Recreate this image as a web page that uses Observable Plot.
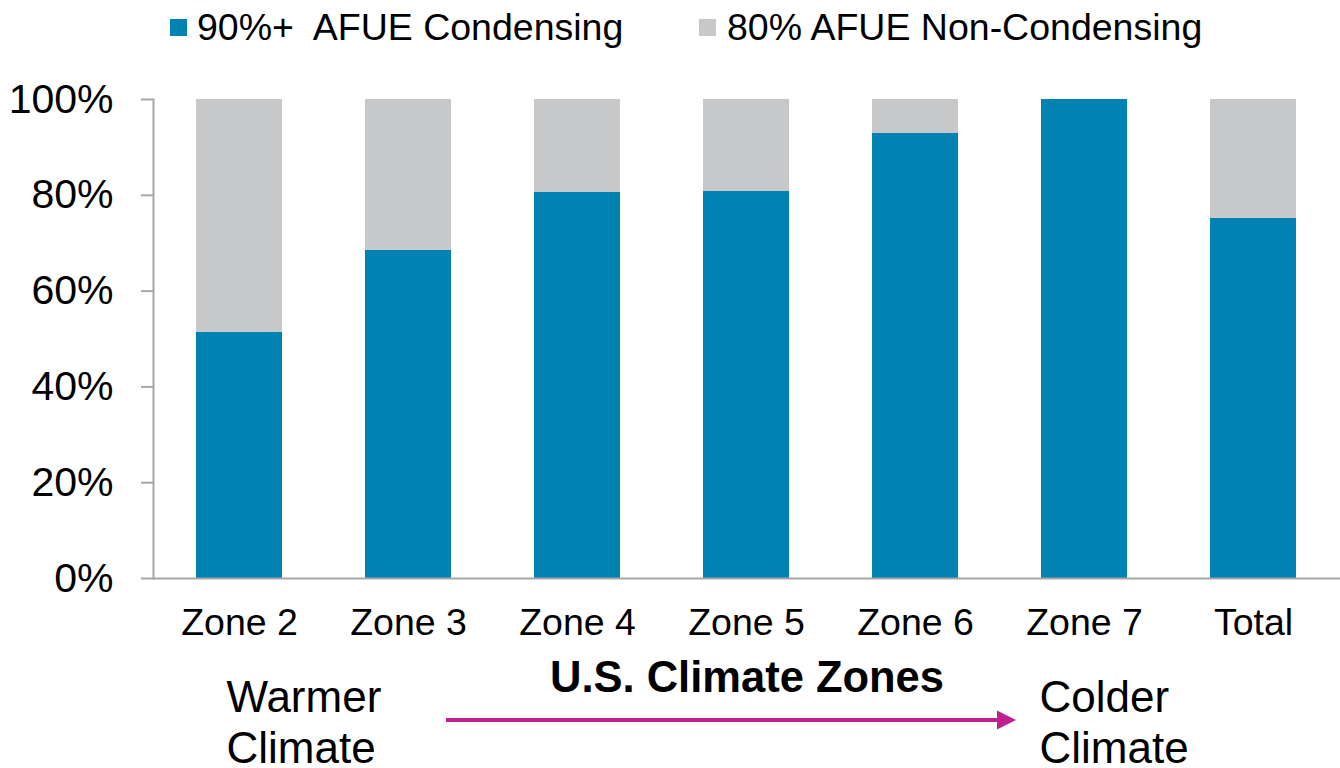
<!DOCTYPE html>
<html>
<head>
<meta charset="utf-8">
<script src="https://cdn.jsdelivr.net/npm/d3@7"></script>
<script src="https://cdn.jsdelivr.net/npm/@observablehq/plot@0.6"></script>
<style>
  html, body { margin: 0; padding: 0; background: #fff; }
  body { width: 1340px; height: 768px; overflow: hidden; font-family: "Liberation Sans", Arial, sans-serif; }
  #legend { position: relative; height: 60px; width: 1340px; }
  .item { position: absolute; top: 9px; font-size: 37.5px; line-height: 37px; white-space: pre; color: #000; }
  .sw { position: absolute; top: 19px; width: 17px; height: 17px; }
</style>
</head>
<body>
<div id="legend"></div>
<div id="chart"></div>
<script>
const categories = ["Zone 2", "Zone 3", "Zone 4", "Zone 5", "Zone 6", "Zone 7", "Total"];
const condensing = [51.4, 68.5, 80.6, 80.8, 92.9, 100, 75.2];
const nonCondensing = [48.6, 31.5, 19.4, 19.2, 7.1, 0, 24.8];
const seriesNames = ["90%+  AFUE Condensing", "80% AFUE Non-Condensing"];
const seriesColors = ["#0083B3", "#C7C8CA"];
const yTicks = [0, 20, 40, 60, 80, 100];
const axisTitle = "U.S. Climate Zones";
const warmerLabel = "Warmer\nClimate";
const colderLabel = "Colder\nClimate";

const data = categories.flatMap((c, i) => [
  {zone: c, series: seriesNames[0], value: condensing[i]},
  {zone: c, series: seriesNames[1], value: nonCondensing[i]}
]);

// legend
const legend = document.getElementById("legend");
const legendPos = [{sw: 170, tx: 197}, {sw: 699, tx: 727}];
seriesNames.forEach((name, i) => {
  const s = document.createElement("div");
  s.className = "sw";
  s.style.left = legendPos[i].sw + "px";
  s.style.background = seriesColors[i];
  legend.appendChild(s);
  const t = document.createElement("div");
  t.className = "item";
  t.style.left = legendPos[i].tx + "px";
  t.textContent = name;
  legend.appendChild(t);
});

const axisGray = "#a6a6a6";

const plot = Plot.plot({
  width: 1340,
  height: 708,
  marginTop: 39,
  marginBottom: 190,
  marginLeft: 153,
  marginRight: 0,
  style: {fontFamily: "'Liberation Sans', Arial, sans-serif", color: "#000", background: "transparent", overflow: "visible"},
  x: {domain: categories, paddingInner: 0.49, paddingOuter: 0.245},
  y: {domain: [0, 100]},
  color: {domain: seriesNames, range: seriesColors},
  marks: [
    Plot.barY(data, {x: "zone", y: "value", fill: "series"}),
    Plot.ruleY([0], {stroke: axisGray, strokeWidth: 2}),
    Plot.frame({anchor: "left", stroke: axisGray, strokeWidth: 2}),
    Plot.axisY({ticks: yTicks, tickFormat: d => d + "%", tickSize: 12, tickPadding: 28, fontSize: 41, stroke: axisGray, strokeWidth: 2, label: null}),
    Plot.axisX({tickSize: 0, tickPadding: 30, fontSize: 37.5, label: null}),
    Plot.text([axisTitle], {frameAnchor: "bottom", dy: 100, fontSize: 43.5, fontWeight: "bold", lineAnchor: "middle", fill: "#000"}),
    Plot.text([warmerLabel], {x: () => categories[0], frameAnchor: "bottom", textAnchor: "start", dx: -13, dy: 143, fontSize: 44, lineHeight: 1.16, lineAnchor: "middle", fill: "#000"}),
    Plot.text([colderLabel], {x: () => categories[5], frameAnchor: "bottom", textAnchor: "start", dx: -45, dy: 143, fontSize: 44, lineHeight: 1.16, lineAnchor: "middle", fill: "#000"})
  ]
});

document.getElementById("chart").appendChild(plot);

// arrow annotation from Zone 3 toward Zone 7, placed relative to the scales
const xs = plot.scale("x");
const ys = plot.scale("y");
const ax1 = xs.apply(categories[1]) + xs.bandwidth - 5;
const ax2 = xs.apply(categories[5]) - 25;
const ay = ys.apply(0) + 142;
const arrowColor = "#C21F8E";
const g = d3.select(plot).append("g");
g.append("line")
  .attr("x1", ax1).attr("x2", ax2 - 16)
  .attr("y1", ay).attr("y2", ay)
  .attr("stroke", arrowColor).attr("stroke-width", 4);
g.append("path")
  .attr("d", `M${ax2},${ay} L${ax2 - 19},${ay - 9.5} L${ax2 - 19},${ay + 9.5} Z`)
  .attr("fill", arrowColor);
</script>
</body>
</html>
